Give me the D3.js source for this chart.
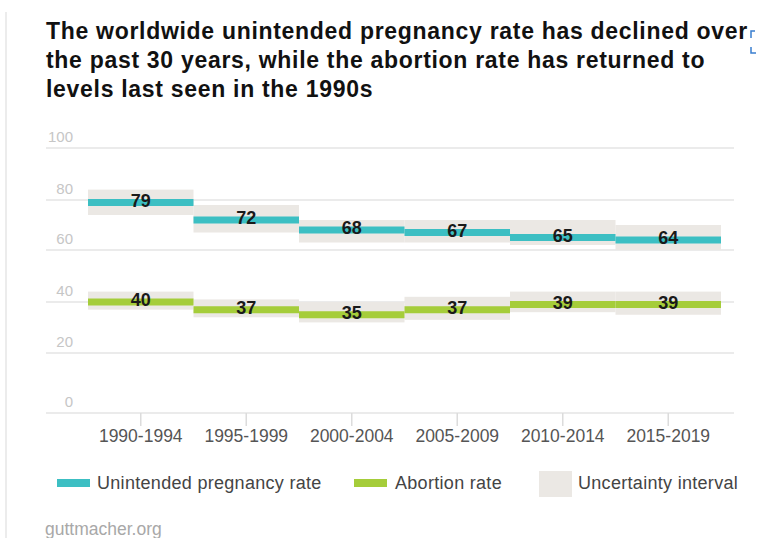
<!DOCTYPE html>
<html>
<head>
<meta charset="utf-8">
<script src="https://cdn.jsdelivr.net/npm/d3@7"></script>
<style>
  html, body { margin: 0; padding: 0; background: #fff; }
  svg { display: block; font-family: "Liberation Sans", Arial, sans-serif; }
</style>
</head>
<body>
<svg id="chart" width="760" height="538"></svg>
<script>
// ---- data ----
const categories = ["1990-1994", "1995-1999", "2000-2004", "2005-2009", "2010-2014", "2015-2019"];
const unintended = [79, 72, 68, 67, 65, 64];
const unintendedLow = [74, 67, 63, 63, 62, 60];
const unintendedHigh = [84, 78, 72, 72, 72, 70];
const abortion = [40, 37, 35, 37, 39, 39];
const abortionLow = [37, 34, 32, 33, 36, 35];
const abortionHigh = [44, 41, 40, 42, 44, 44];
const yTicks = [0, 20, 40, 60, 80, 100];
const titleLines = [
  "The worldwide unintended pregnancy rate has declined over",
  "the past 30 years, while the abortion rate has returned to",
  "levels last seen in the 1990s"
];
const legendItems = ["Unintended pregnancy rate", "Abortion rate", "Uncertainty interval"];
const sourceText = "guttmacher.org";

// ---- styles ----
const TEAL = "#3cbfc3";
const GREEN = "#a5cd3a";
const BAND = "#ebe8e4";

const svg = d3.select("#chart");

// left border line
svg.append("line").attr("x1", 6).attr("x2", 6).attr("y1", 12).attr("y2", 538)
  .attr("stroke", "#e6e6e6").attr("stroke-width", 1.5);

// title
const title = svg.append("text").attr("x", 46).attr("y", 39)
  .attr("font-size", 23).attr("font-weight", "bold").attr("fill", "#111")
  .attr("letter-spacing", 0.7);
titleLines.forEach((t, i) => {
  title.append("tspan").attr("x", 46).attr("dy", i === 0 ? 0 : 29).text(t);
});
// small blue overlay glyphs at top-right edge
svg.append("path").attr("d", "M751,38 L751,31 L755,31").attr("fill", "none")
  .attr("stroke", "#3a7fd0").attr("stroke-width", 1.5);
svg.append("path").attr("d", "M751,47 L751,53 L756,53").attr("fill", "none")
  .attr("stroke", "#3a7fd0").attr("stroke-width", 1.5);

// scales
const x = d3.scaleBand().domain(categories).range([88, 721]).padding(0);
const y = d3.scaleLinear().domain([0, 20, 40, 60, 80, 100]).range([413, 353, 302, 250, 200, 148]);

// gridlines
svg.append("g").selectAll("line").data(yTicks).join("line")
  .attr("x1", 46).attr("x2", 734)
  .attr("y1", d => y(d)).attr("y2", d => y(d))
  .attr("stroke", "#e4e4e4").attr("stroke-width", 1.5);

// y labels
svg.append("g").selectAll("text").data(yTicks).join("text")
  .attr("x", 73).attr("y", d => y(d) - 6)
  .attr("text-anchor", "end").attr("font-size", 15).attr("fill", "#c6c6c6")
  .text(d => d);

// x axis
const xAxis = svg.append("g").attr("transform", `translate(0,${y(0)})`)
  .call(d3.axisBottom(x).tickSize(13).tickPadding(4));
xAxis.select(".domain").remove();
xAxis.selectAll(".tick line").attr("stroke", "#dcdcdc").attr("stroke-width", 1.5);
xAxis.selectAll(".tick text").attr("font-size", 17.5).attr("fill", "#555")
  .attr("font-family", "Liberation Sans, Arial, sans-serif");

// series
const series = [
  { vals: unintended, lo: unintendedLow, hi: unintendedHigh, color: TEAL },
  { vals: abortion, lo: abortionLow, hi: abortionHigh, color: GREEN }
];

series.forEach(s => {
  svg.append("g").selectAll("rect").data(categories).join("rect")
    .attr("x", d => x(d)).attr("width", x.bandwidth())
    .attr("y", (d, i) => y(s.hi[i]))
    .attr("height", (d, i) => y(s.lo[i]) - y(s.hi[i]))
    .attr("fill", BAND);
});
series.forEach(s => {
  svg.append("g").selectAll("line").data(categories).join("line")
    .attr("x1", d => x(d)).attr("x2", d => x(d) + x.bandwidth())
    .attr("y1", (d, i) => y(s.vals[i])).attr("y2", (d, i) => y(s.vals[i]))
    .attr("stroke", s.color).attr("stroke-width", 7);
});
series.forEach(s => {
  svg.append("g").selectAll("text").data(categories).join("text")
    .attr("x", d => x(d) + x.bandwidth() / 2)
    .attr("y", (d, i) => y(s.vals[i]) - 2)
    .attr("dy", "0.35em")
    .attr("text-anchor", "middle").attr("font-size", 18).attr("font-weight", "bold")
    .attr("fill", "#1a1a1a")
    .text((d, i) => s.vals[i]);
});

// legend
const lg = svg.append("g");
const ly = 483;
const legendText = (xx, t) => lg.append("text").attr("x", xx).attr("y", ly).attr("dy", "0.35em")
  .attr("font-size", 18).attr("letter-spacing", 0.3).attr("fill", "#444").text(t);
lg.append("rect").attr("x", 57).attr("y", ly - 4).attr("width", 33).attr("height", 8).attr("fill", TEAL);
legendText(97, legendItems[0]);
lg.append("rect").attr("x", 354).attr("y", ly - 4).attr("width", 33).attr("height", 8).attr("fill", GREEN);
legendText(395, legendItems[1]);
lg.append("rect").attr("x", 539).attr("y", ly - 12).attr("width", 33).attr("height", 26).attr("fill", BAND);
legendText(578, legendItems[2]);

// source
svg.append("text").attr("x", 45).attr("y", 535).attr("font-size", 17.5).attr("fill", "#a8a8a8").text(sourceText);
</script>
</body>
</html>
